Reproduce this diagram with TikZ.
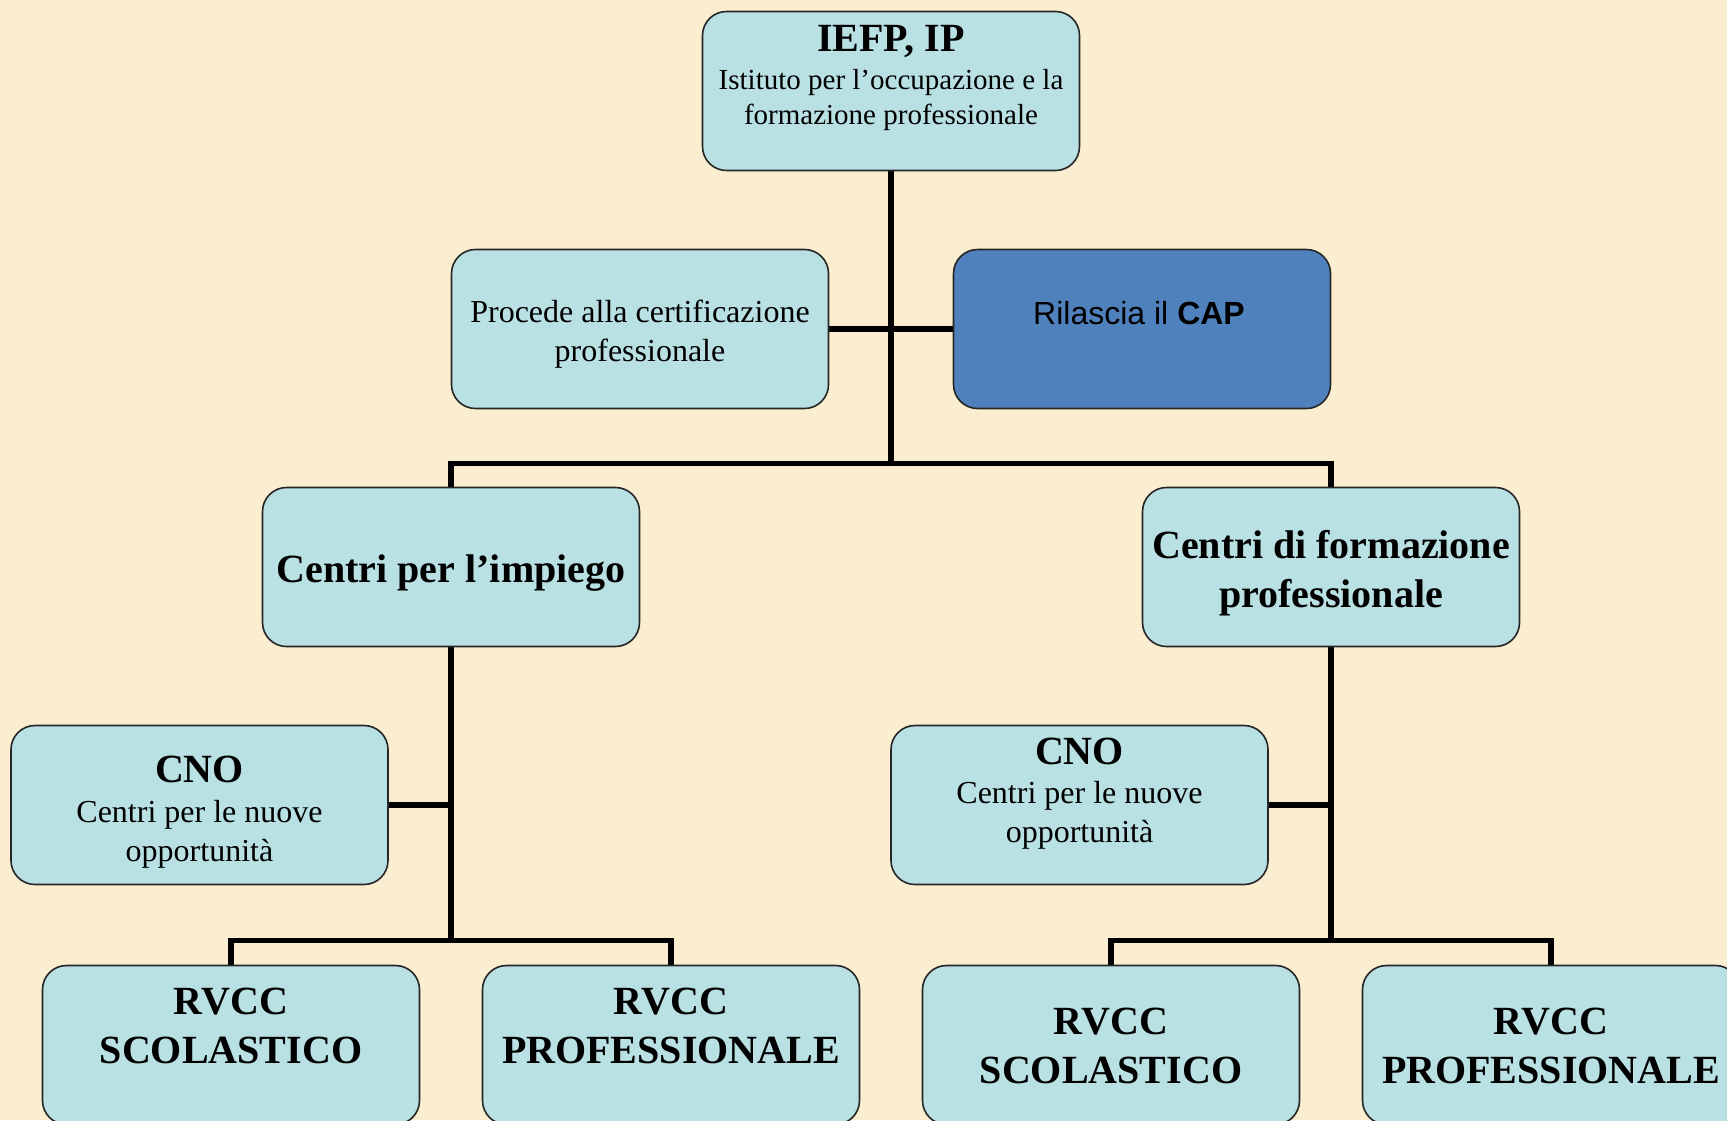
\documentclass[tikz,border=0pt]{standalone}
\usepackage{fontspec}
\setmainfont{Liberation Serif}
\newfontfamily\arialf{Liberation Sans}
\definecolor{bgbeige}{RGB}{251,238,208}
\definecolor{boxcyan}{RGB}{185,224,227}
\definecolor{capblue}{RGB}{79,129,189}
\pgfdeclarelayer{paper}
\pgfdeclarelayer{wires}
\pgfsetlayers{paper,wires,main}
\begin{document}
\begin{tikzpicture}[x=0.5pt,y=-0.5pt,
  orgbox/.style={draw=black!85, line width=0.8pt, rounded corners=12pt, fill=boxcyan,
    minimum width=188.5pt, minimum height=79.5pt, inner sep=0pt},
  capbox/.style={orgbox, fill=capblue},
  conn/.style={line width=2.7pt, black, line cap=rect},
  ttl/.style={font=\fontsize{20}{24.5}\selectfont\bfseries, align=center, inner sep=0pt},
  sub/.style={font=\fontsize{16}{19.3}\selectfont, align=center, inner sep=0pt},
  subsm/.style={font=\fontsize{14.5}{17.75}\selectfont, align=center, inner sep=0pt}]
\useasboundingbox (0,0) rectangle (1727,1120);
\clip (0,0) rectangle (1727,1120);
\begin{pgfonlayer}{paper}
\fill[bgbeige] (0,0) rectangle (1727,1120);
\end{pgfonlayer}

% boxes
\node[orgbox] (top) at (891,91) {};
\node[orgbox] (proc) at (640,329) {};
\node[capbox] (cap) at (1142,329) {};
\node[orgbox] (imp) at (451,567) {};
\node[orgbox] (cfp) at (1331,567) {};
\node[orgbox] (cnoL) at (199.5,805) {};
\node[orgbox] (cnoR) at (1079.5,805) {};
\node[orgbox] (rvA) at (231,1045) {};
\node[orgbox] (rvB) at (671,1045) {};
\node[orgbox] (rvC) at (1111,1045) {};
\node[orgbox] (rvD) at (1551,1045) {};

% junctions
\coordinate (j1) at (891,463.7);
\coordinate (j2) at (451,940.6);
\coordinate (j3) at (1331,940.6);

% connectors (behind the boxes)
\begin{pgfonlayer}{wires}
\draw[conn] (top.south) -- (j1);
\draw[conn] (proc.east) -- (cap.west);
\draw[conn] (imp.north) |- (j1) -| (cfp.north);
\draw[conn] (imp.south) -- (j2);
\draw[conn] (cnoL.east) -- (cnoL.east -| j2);
\draw[conn] (rvA.north) |- (j2) -| (rvB.north);
\draw[conn] (cfp.south) -- (j3);
\draw[conn] (cnoR.east) -- (cnoR.east -| j3);
\draw[conn] (rvC.north) |- (j3) -| (rvD.north);
\end{pgfonlayer}

% texts
\node[ttl] (topT) at (891,41) {IEFP, IP};
\node[subsm] (topS) at (891,100) {Istituto per l'occupazione e la\\formazione professionale};
\node[sub] (procT) at (640,334) {Procede alla certificazione\\professionale};
\node[font=\arialf\fontsize{16}{19}\selectfont, inner sep=0pt] (capT) at (1139,313) {Rilascia il \textbf{CAP}};
\node[ttl] (impT) at (451,573) {Centri per l'impiego};
\node[ttl] (cfpT) at (1331,573) {Centri di formazione\\professionale};
\node[ttl] (cnoLT) at (199.5,769) {CNO};
\node[sub] (cnoLS) at (199.5,834) {Centri per le nuove\\opportunità};
\node[ttl] (cnoRT) at (1079.5,751) {CNO};
\node[sub] (cnoRS) at (1079.5,815.5) {Centri per le nuove\\opportunità};
\node[ttl] (rvAT) at (231,1025.5) {RVCC\\SCOLASTICO};
\node[ttl] (rvBT) at (671,1025.5) {RVCC\\PROFESSIONALE};
\node[ttl] (rvCT) at (1111,1045.5) {RVCC\\SCOLASTICO};
\node[ttl] (rvDT) at (1551,1045.5) {RVCC\\PROFESSIONALE};
\end{tikzpicture}
\end{document}
